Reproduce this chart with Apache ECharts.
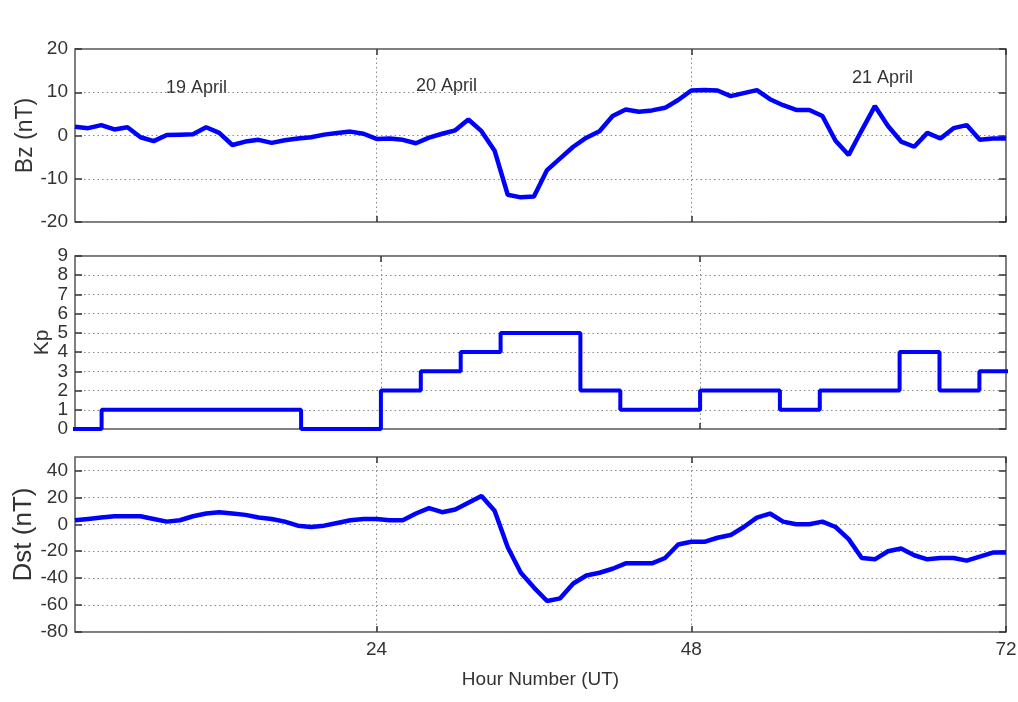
<!DOCTYPE html>
<html>
<head>
<meta charset="utf-8">
<script src="https://cdn.jsdelivr.net/npm/echarts@6/dist/echarts.min.js"></script>
<style>
  html, body { margin: 0; padding: 0; background: #fff; }
  #main { width: 1018px; height: 702px; }
</style>
</head>
<body>
<div id="main"></div>
<script>
// ---------- data ----------
// Bz (nT), hourly, hour 1..72
var bzValues = [2.0, 1.7, 2.4, 1.4, 1.9, -0.4, -1.3, 0.1, 0.2, 0.3,
    1.9, 0.6, -2.2, -1.4, -1.0, -1.7, -1.1, -0.7, -0.4, 0.2,
    0.6, 0.9, 0.4, -0.8, -0.7, -1.0, -1.8, -0.5, 0.4, 1.2,
    3.7, 1.0, -3.5, -13.7, -14.3, -14.1, -8.0, -5.3, -2.6, -0.5,
    1.0, 4.5, 6.0, 5.5, 5.8, 6.4, 8.2, 10.4, 10.5, 10.4,
    9.1, 9.8, 10.5, 8.4, 7.0, 5.9, 5.9, 4.5, -1.2, -4.5,
    1.2, 6.8, 2.2, -1.4, -2.6, 0.6, -0.7, 1.7, 2.4, -1.0,
    -0.7, -0.7];

// Dst (nT), hourly, hour 1..72
var dstValues = [3, 4, 5, 6, 6, 6, 4, 2, 3, 6,
    8, 9, 8, 7, 5, 4, 2, -1, -2, -1,
    1, 3, 4, 4, 3, 3, 8, 12, 9, 11,
    16, 21, 10, -17, -36, -47, -57, -55, -44, -38,
    -36, -33, -29, -29, -29, -25, -15, -13, -13, -10,
    -8, -2, 5, 8, 2, 0, 0, 2, -2, -11,
    -25, -26, -20, -18, -23, -26, -25, -25, -27, -24,
    -21, -21];

// Kp, 3-hour blocks (start hour of each block, last entry closes the final block)
var kpStart = [0, 3, 6, 9, 12, 15, 18, 21, 24, 27, 30, 33, 36, 39, 42, 45,
    48, 51, 54, 57, 60, 63, 66, 69, 72];
var kpValues = [0, 1, 1, 1, 1, 1, 0, 0, 2, 3, 4, 5, 5, 2, 1, 1,
    2, 2, 1, 2, 2, 4, 2, 3, 3];

var hourTicks = [24, 48, 72];
var bzTicks = [-20, -10, 0, 10, 20];
var kpTicks = [0, 1, 2, 3, 4, 5, 6, 7, 8, 9];
var dstTicks = [-80, -60, -40, -20, 0, 20, 40];

var dayLabels = ['19 April', '20 April', '21 April'];

// ---------- chart ----------
var myChart = echarts.init(document.getElementById('main'));

var sans = '"Liberation Sans", Arial, sans-serif';
var textColor = '#333';

function pairs(vals) {
    return vals.map(function (v, i) { return [i + 1, v]; });
}

// bottom x axis for each panel
function xBottom(gridIndex, min, max, showLabel) {
    return {
        type: 'value', gridIndex: gridIndex, position: 'bottom',
        min: min, max: max,
        axisLine: { show: false, onZero: false },
        axisTick: { show: true, inside: true, length: 6, customValues: hourTicks,
            lineStyle: { color: '#333', width: 1.5 } },
        axisLabel: { show: showLabel, customValues: hourTicks, color: textColor,
            fontFamily: sans, fontSize: 19, margin: 8 },
        splitLine: { show: true, lineStyle: { color: '#888', type: [1.5, 3], width: 1 } },
        name: showLabel ? 'Hour Number (UT)' : '',
        nameLocation: 'middle', nameGap: 38, nameMoveOverlap: false,
        nameTextStyle: { color: textColor, fontFamily: sans, fontSize: 19 }
    };
}
// top x axis, ticks only (matlab box)
function xTop(gridIndex, min, max) {
    return {
        type: 'value', gridIndex: gridIndex, position: 'top',
        min: min, max: max,
        axisLine: { show: false, onZero: false },
        axisTick: { show: true, inside: true, length: 6, customValues: hourTicks,
            lineStyle: { color: '#333', width: 1.5 } },
        axisLabel: { show: false },
        splitLine: { show: false }
    };
}
function yLeft(gridIndex, min, max, ticks, name, nameGap, nameSize, namePad) {
    return {
        type: 'value', gridIndex: gridIndex, position: 'left',
        min: min, max: max,
        axisLine: { show: false, onZero: false },
        axisTick: { show: true, inside: true, length: 7, customValues: ticks,
            lineStyle: { color: '#333', width: 1.5 } },
        axisLabel: { customValues: ticks, color: textColor, fontFamily: sans,
            fontSize: 19, margin: 7, showMinLabel: true, showMaxLabel: true },
        splitLine: { show: true, lineStyle: { color: '#888', type: [1.5, 3], width: 1 } },
        name: name, nameLocation: 'middle', nameRotate: 90, nameGap: nameGap,
        nameMoveOverlap: false,
        nameTextStyle: { color: textColor, fontFamily: sans, fontSize: nameSize,
            padding: namePad || 0 }
    };
}
function yRight(gridIndex, min, max, ticks) {
    return {
        type: 'value', gridIndex: gridIndex, position: 'right',
        min: min, max: max,
        axisLine: { show: false, onZero: false },
        axisTick: { show: true, inside: true, length: 7, customValues: ticks,
            lineStyle: { color: '#333', width: 1.5 } },
        axisLabel: { show: false },
        splitLine: { show: false }
    };
}

var gridBase = { left: 75, right: 12, show: true, borderColor: '#555', borderWidth: 1.5,
    backgroundColor: '#fff', containLabel: false, outerBoundsMode: 'none' };

var option = {
    backgroundColor: '#fff',
    animation: false,
    grid: [
        Object.assign({ top: 49, height: 173 }, gridBase),
        Object.assign({ top: 256, height: 173 }, gridBase),
        Object.assign({ top: 457, height: 175 }, gridBase)
    ],
    xAxis: [
        xBottom(0, 1, 72, false), xTop(0, 1, 72),
        xBottom(1, 1, 71, false), xTop(1, 1, 71),
        xBottom(2, 1, 72, true), xTop(2, 1, 72)
    ],
    yAxis: [
        yLeft(0, -20, 20, bzTicks, 'Bz (nT)', 38, 23), yRight(0, -20, 20, bzTicks),
        yLeft(1, 0, 9, kpTicks, 'Kp', 22, 21), yRight(1, 0, 9, kpTicks),
        yLeft(2, -80, 50, dstTicks, 'Dst (nT)', 38, 26, [0, 0, 0, 20]), yRight(2, -80, 50, dstTicks)
    ],
    graphic: [
        { type: 'text', left: 166, top: 79, silent: true,
          style: { text: dayLabels[0], fill: textColor, font: '18px ' + sans } },
        { type: 'text', left: 416, top: 77, silent: true,
          style: { text: dayLabels[1], fill: textColor, font: '18px ' + sans } },
        { type: 'text', left: 852, top: 69, silent: true,
          style: { text: dayLabels[2], fill: textColor, font: '18px ' + sans } }
    ],
    series: [
        {
            name: 'Bz', type: 'line', xAxisIndex: 0, yAxisIndex: 0,
            data: pairs(bzValues), showSymbol: false, clip: true,
            lineStyle: { color: '#0000ff', width: 4.5 }
        },
        {
            name: 'Kp', type: 'line', xAxisIndex: 2, yAxisIndex: 2,
            step: 'end',
            data: kpStart.map(function (h, i) { return [h, kpValues[i]]; }),
            showSymbol: false, clip: true,
            lineStyle: { color: '#0000ff', width: 4 }
        },
        {
            name: 'Dst', type: 'line', xAxisIndex: 4, yAxisIndex: 4,
            data: pairs(dstValues), showSymbol: false, clip: true,
            lineStyle: { color: '#0000ff', width: 4.5 }
        }
    ]
};

myChart.setOption(option);
</script>
</body>
</html>
